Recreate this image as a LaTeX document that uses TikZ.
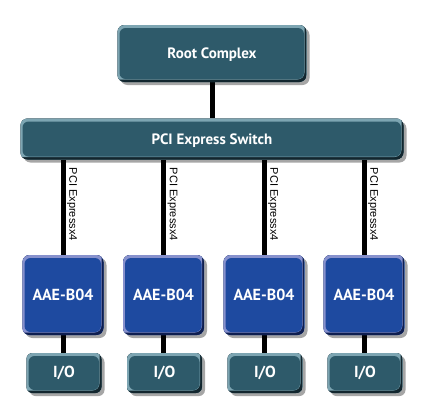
\documentclass[tikz,border=0pt]{standalone}
\usepackage{fontspec}
\setmainfont{PT Sans}
\newfontfamily\labelfont{Liberation Sans}
\usetikzlibrary{shadows,backgrounds}
\definecolor{tealbase}{RGB}{46,90,106}
\definecolor{teallight}{RGB}{125,165,178}
\definecolor{tealdark}{RGB}{18,38,46}
\definecolor{bluebase}{RGB}{30,74,160}
\definecolor{bluelight}{RGB}{135,145,205}
\definecolor{bluedark}{RGB}{14,30,80}
\tikzset{
  x=1pt, y=-1pt,
  bevelbox/.style n args={3}{
    rounded corners=7pt, fill=#1, inner sep=0pt,
    text=white, font=\bfseries,
    drop shadow={shadow xshift=3pt, shadow yshift=-3pt, opacity=0.35, fill=black},
    path picture={
      \fill[#3] (path picture bounding box.south west) rectangle (path picture bounding box.north east);
      \fill[#2, rounded corners=7pt] ([shift={(-6pt,6pt)}]path picture bounding box.north west) rectangle ([shift={(-2pt,2.5pt)}]path picture bounding box.south east);
      \fill[#1, rounded corners=6pt] ([shift={(2pt,-3pt)}]path picture bounding box.north west) rectangle ([shift={(-2.5pt,3pt)}]path picture bounding box.south east);
    }
  },
  tealbox/.style={bevelbox={tealbase}{teallight}{tealdark}},
  bluebox/.style={bevelbox={bluebase}{bluelight}{bluedark}},
  link/.style={line width=5pt, black},
  lanelabel/.style={rotate=-90, anchor=south west, inner sep=0pt, font=\labelfont\fontsize{11}{12}\selectfont}
}
\begin{document}
\begin{tikzpicture}
\useasboundingbox (0,0) rectangle (432,418);
\node[tealbox, minimum width=189pt, minimum height=57pt, text depth=1pt, font=\bfseries\fontsize{15}{17}\selectfont] (root) at (212,53.5) {Root Complex};
\node[tealbox, minimum width=383pt, minimum height=41pt, text depth=0pt, font=\bfseries\fontsize{15}{17}\selectfont] (sw) at (212,139) {PCI Express Switch};
\foreach \i/\xx in {1/63,2/163.5,3/264,4/364}{
  \node[bluebox, minimum width=81pt, minimum height=80pt, font=\bfseries\fontsize{16}{18}\selectfont] (a\i) at (\xx,295) {AAE-B04};
  \node[tealbox, minimum width=75pt, minimum height=40pt, rounded corners=6pt, font=\bfseries\fontsize{16}{18}\selectfont] (io\i) at (\xx+1,373) {I/O};
}
\begin{scope}[on background layer]
  \fill[white] (0,0) rectangle (432,418);
  \draw[link] (root.south) -- (sw.north);
  \foreach \i in {1,...,4}{
    \draw[link] (a\i.north) -- (a\i.north |- sw.south);
    \draw[link] (a\i.south) -- (a\i.south |- io\i.north);
  }
\end{scope}
\foreach \i in {1,...,4}{
  \node[lanelabel] (l\i) at ([shift={(4pt,-8pt)}]a\i.north |- sw.south) {PCI Expressx4};
}
\end{tikzpicture}
\end{document}
